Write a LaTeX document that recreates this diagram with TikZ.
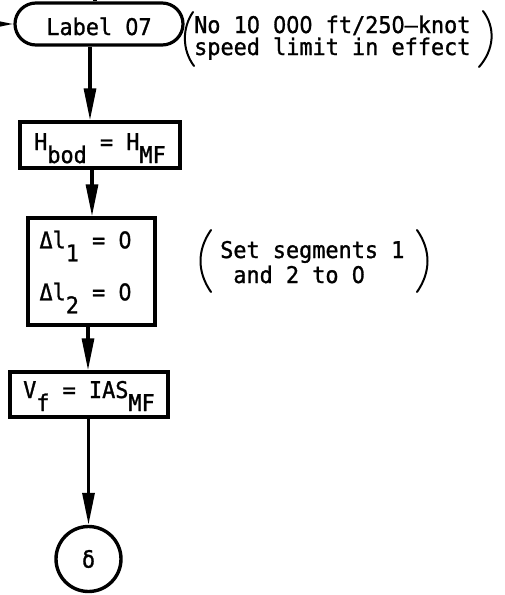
\documentclass[tikz,border=0pt]{standalone}
\usepackage{fontspec}
\newfontfamily\tw{DejaVu Sans Mono}[FakeBold=1.2, FakeStretch=0.95]
\newfontfamily\pz{DejaVu Sans}[FakeBold=1.2, FakeStretch=0.9]
\usetikzlibrary{arrows.meta}
\newcommand\lowr[1]{\raisebox{-13pt}[0pt][0pt]{#1}}
\newcommand\zr{\makebox[\fontcharwd\font`0][c]{\pz 0}}
\begin{document}
\begin{tikzpicture}[x=1pt,y=-1pt,
  every node/.style={font=\tw\fontsize{23}{26}\selectfont, inner sep=0pt},
  tbox/.style={draw, rectangle, line width=3.4pt},
  arr/.style={line width=3.2pt, -{Triangle[length=32pt,width=12pt]}},
  plain/.style={line width=3.2pt},
  paren/.style={line width=2pt, line cap=round}]
\useasboundingbox (0,0) rectangle (505,595);

% flow nodes
\node[draw, line width=3.2pt, rounded corners=21pt, minimum width=168pt,
      minimum height=42pt, text height=22pt, text depth=0pt] (term) at (99,24) {Label \zr7};
\node[tbox, minimum width=160pt, minimum height=46pt, text height=15pt,
      text depth=5pt] (b1) at (100,145) {H\lowr{bod} = H\lowr{MF}};
\node[tbox, minimum width=127pt, minimum height=107pt] (b2) at (91.5,271.5) {};
\node[anchor=base west] (b2a) at ([xshift=13pt,yshift=-32pt]b2.north west) {Δl\lowr{1} = \zr};
\node[anchor=base west] (b2b) at ([xshift=13pt,yshift=-84pt]b2.north west) {Δl\lowr{2} = \zr};
\node[tbox, minimum width=158pt, minimum height=45pt, text height=15pt,
      text depth=8pt] (b3) at (89,394.5) {V\lowr{f} = IAS\lowr{MF}};
\node[draw, circle, line width=3.4pt, minimum size=65pt] (endc) at (88.5,559) {δ};

% incoming connectors
\coordinate (topin) at (95,-10);
\coordinate (leftin) at (-40,24);
\draw[plain] (topin) -- (topin |- term.north);
\draw[arr] (leftin) -- (term.west);

% flow connectors
\draw[arr] ([xshift=-9pt]term.south) coordinate (s1) -- (s1 |- b1.north);
\draw[arr] ([xshift=-8pt]b1.south) coordinate (s2) -- (s2 |- b2.north);
\draw[arr] ([xshift=-3.5pt]b2.south) coordinate (s3) -- (s3 |- b3.north);
\draw[arr] ([xshift=-0.5pt]b3.south) coordinate (s4) -- (s4 |- endc.north);

% annotations
\node[anchor=base west] (n1a) at (194,33) {No 1\zr{} \zr\zr\zr{} ft/25\zr–knot};
\node[anchor=base west] (n1b) at (194,55) {speed limit in effect};
\draw[paren] (193,12) .. controls (182,28) and (182,50) .. (194,66);
\draw[paren] (483,11) .. controls (496,28) and (494,50) .. (479,67);

\node[anchor=base west] (n2a) at (220,258) {Set segments 1};
\node[anchor=base west] (n2b) at (220,283) {\hphantom{a}and 2 to \zr};
\draw[paren] (211,230) .. controls (197,250) and (197,272) .. (211,292);
\draw[paren] (417,230) .. controls (431,250) and (431,272) .. (417,292);
\end{tikzpicture}
\end{document}
